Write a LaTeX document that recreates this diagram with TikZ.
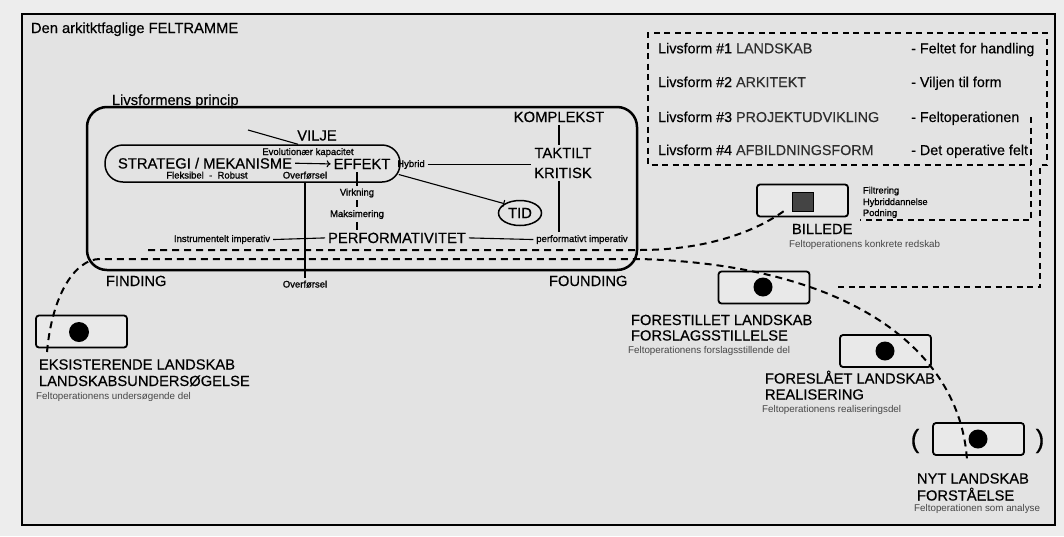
\documentclass[tikz,border=0pt]{standalone}
\usepackage{fontspec}
\setmainfont{Liberation Sans}
\newfontfamily\smf[FakeBold=1]{Liberation Sans}
\newfontfamily\bgf[FakeBold=0.4]{Liberation Sans}
\usetikzlibrary{arrows.meta,shapes.geometric}
\definecolor{bgout}{HTML}{EDEDED}
\definecolor{bgin}{HTML}{E3E3E3}
\definecolor{boxfill}{HTML}{E9E9E9}
\definecolor{txtgray}{HTML}{464646}
\definecolor{capgray}{HTML}{2E2E2E}
\definecolor{sqfill}{HTML}{444444}
\tikzset{
  T/.style={inner sep=0pt, outer sep=3pt, text=black},
  big/.style={T, font=\bgf\fontsize{14.8}{20}\selectfont},
  lab/.style={T, font=\bgf\fontsize{14.7}{17}\selectfont},
  sm/.style={T, font=\smf\fontsize{9.5}{11}\selectfont},
  gr/.style={inner sep=0pt, font=\fontsize{9.8}{11}\selectfont, text=txtgray},
  lg/.style={inner sep=0pt, font=\bgf\fontsize{14.3}{16}\selectfont},
  conn/.style={line width=1.1pt},
  fbox/.style={draw, line width=1.8pt, rounded corners=3pt, fill=boxfill, minimum width=91pt, minimum height=32pt, inner sep=0pt},
  blackdot/.style={circle, fill=black, minimum size=19pt, inner sep=0pt},
  dsh/.style={line width=2pt, dash pattern=on 7pt off 5pt},
  ldsh/.style={line width=1.4pt, dash pattern=on 6pt off 4.5pt},
}
\begin{document}
\begin{tikzpicture}[x=1pt,y=-1pt]
\useasboundingbox (0,0) rectangle (1064,536);
\fill[bgout] (0,0) rectangle (1064,536);
\fill[bgin] (22,14) rectangle (1055,525);
\draw[line width=2pt] (22,14) rectangle (1055,525);

% title
\node[lab, anchor=base west] (title) at (28,33) {Den arkitktfaglige FELTRAMME};

% principle frame
\node[lab, anchor=base west] (lfptitle) at (109,105) {Livsformens princip};
\node[draw, line width=2.5pt, rounded corners=20pt, minimum width=550pt, minimum height=163pt, inner sep=0pt] (lfp) at (362,188.5) {};

% stadium
\node[draw, line width=1.5pt, rounded corners=18pt, minimum width=295pt, minimum height=37pt, inner sep=0pt] (stad) at (252.5,163.5) {};

\node[big, anchor=base] (vilje) at (317,140.5) {VILJE};
\coordinate (vp) at (248,130);
\draw[conn] (vp) -- ([xshift=45.5pt]stad.north);

\node[sm, anchor=base] (evo) at (308,155) {Evolutionær kapacitet};
\node[big, anchor=base] (strat) at (205,168.5) {STRATEGI / MEKANISME};
\node[big, anchor=base] (eff) at (362,169) {EFFEKT};
\node[sm, anchor=base] (flex) at (207,178.5) {Fleksibel \ - \ Robust};
\node[sm, anchor=base] (ov1) at (305,178.5) {Overførsel};
\draw[conn, -{To[length=4pt,width=7pt]}] (strat.east) -- (eff.west);

\node[sm, anchor=base] (hyb) at (411,167) {Hybrid};
\node[big, anchor=base] (kom) at (559,122) {KOMPLEKST};
\node[big, align=center, anchor=center] (tk) at (563,163) {TAKTILT\\KRITISK};
\draw[conn] (hyb.east) -- (hyb.east -| tk.west);
\draw[conn] (kom.south) -- (kom.south |- tk.north);

\node[draw, line width=1.5pt, ellipse, minimum width=43pt, minimum height=25pt, inner sep=0pt, font=\bgf\fontsize{14.8}{18}\selectfont] (tid) at (520,213) {TID};
\draw[conn, -{Bar[width=7pt]}] ([shift={(-2pt,-11pt)}]stad.east) -- (tid.north west);

\node[sm, anchor=base] (virk) at (357,195.5) {Virkning};
\node[sm, anchor=base] (maks) at (357,217) {Maksimering};
\node[big, anchor=base] (perf) at (397,243) {PERFORMATIVITET};
\node[sm, anchor=base] (instr) at (222,242) {Instrumentelt imperativ};
\node[sm, anchor=base] (pimp) at (582,242) {performativt imperativ};
\draw[conn] (eff.south -| virk.north) -- (virk.north);
\draw[conn] (virk.south) -- (maks.north);
\draw[conn] (maks.south) -- (maks.south |- perf.north);
\draw[conn] (instr.east) -- (perf.west);
\draw[conn] (perf.east) -- (pimp.west);
\draw[conn] (tk.south -| kom.south) -- (kom.south |- pimp.north);

\node[sm, anchor=base] (ov2) at (305,287.5) {Overførsel};
\draw[conn] (ov1.south) -- (ov2.north);

\node[lab, anchor=base west] (finding) at (103,286) {FINDING};
\node[lab, anchor=base west] (founding) at (546,286) {FOUNDING};

% legend
\node[lg, anchor=base west] (l1) at (658,53.3) {Livsform \#1 {\color{capgray}LANDSKAB}};
\node[lg, anchor=base west] (l2) at (658,87) {Livsform \#2 {\color{capgray}ARKITEKT}};
\node[lg, anchor=base west] (l3) at (658,122) {Livsform \#3 {\color{capgray}PROJEKTUDVIKLING}};
\node[lg, anchor=base west] (l4) at (658,155) {Livsform \#4 {\color{capgray}AFBILDNINGSFORM}};
\node[lg, anchor=base west] (r1) at (911,53.3) {- Feltet for handling};
\node[lg, anchor=base west] (r2) at (911,87) {- Viljen til form};
\node[lg, anchor=base west] (r3) at (911,122) {- Feltoperationen};
\node[lg, anchor=base west] (r4) at (911,155) {- Det operative felt};
\draw[ldsh] (838,287) -- (1040,287) -- (1040,165) -- (1047,165) -- (1047,33) -- (648,33) -- (648,165) -- (1031,165);
\draw[ldsh] (1031,117) -- (1031,220) -- (860,220);

% BILLEDE
\node[fbox] (bil) at (802.5,200.5) {};
\node[draw, line width=1pt, fill=sqfill, minimum width=21pt, minimum height=19pt, inner sep=0pt] (sq) at (803,201.5) {};
\node[sm, anchor=base west, font=\smf\fontsize{9.3}{11}\selectfont] (filt) at (860,193.5) {Filtrering};
\node[sm, anchor=base west, font=\smf\fontsize{9.3}{11}\selectfont] (hybd) at (860,205) {Hybriddannelse};
\node[sm, anchor=base west, font=\smf\fontsize{9.3}{11}\selectfont] (podn) at (860,216) {Podning};
\node[lab, anchor=base west] (billede) at (789,234) {BILLEDE};
\node[gr, anchor=base west] (bilsub) at (789,247) {Feltoperationens konkrete redskab};

% EKSISTERENDE
\node[fbox] (eks) at (81.5,331.5) {};
\node[blackdot, minimum size=20pt] (eksdot) at (79,332) {};
\node[lab, anchor=base west] (eks1) at (36,369.5) {EKSISTERENDE LANDSKAB};
\node[lab, anchor=base west] (eks2) at (36,386) {LANDSKABSUNDERSØGELSE};
\node[gr, anchor=base west] (eks3) at (36,399.5) {Feltoperationens undersøgende del};

% FORESTILLET
\node[fbox] (fore) at (764,287.5) {};
\node[blackdot] (foredot) at (763,287) {};
\node[lab, anchor=base west] (fore1) at (628,325) {FORESTILLET LANDSKAB};
\node[lab, anchor=base west] (fore2) at (628,340.5) {FORSLAGSSTILLELSE};
\node[gr, anchor=base west] (fore3) at (628,353.5) {Feltoperationens forslagsstillende del};

% FORESLAAET
\node[fbox] (fosl) at (885.5,351) {};
\node[blackdot] (fosldot) at (885,351) {};
\node[lab, anchor=base west] (fosl1) at (762,383.5) {FORESLÅET LANDSKAB};
\node[lab, anchor=base west] (fosl2) at (762,399.5) {REALISERING};
\node[gr, anchor=base west] (fosl3) at (762,412.5) {Feltoperationens realiseringsdel};

% NYT
\node[fbox] (nyt) at (978.5,439) {};
\node[blackdot] (nytdot) at (978,439) {};
\node[inner sep=0pt, font=\bgf\fontsize{26}{28}\selectfont] (pl) at (915,441) {(};
\node[inner sep=0pt, font=\bgf\fontsize{26}{28}\selectfont] (pr) at (1040,441) {)};
\node[lab, anchor=base west] (nyt1) at (914,483.5) {NYT LANDSKAB};
\node[lab, anchor=base west] (nyt2) at (914,500.5) {FORSTÅELSE};
\node[gr, anchor=base west] (nyt3) at (914,511.5) {Feltoperationen som analyse};

% dashed paths
\coordinate (d1s) at (148,250);
\coordinate (d1m) at (640,250);
\coordinate (d1e) at (784,211);
\draw[dsh] (d1s) -- (d1m) .. controls (700,250) and (750,235) .. (d1e);
\coordinate (d2s) at (47,352);
\coordinate (d2a) at (100,259);
\coordinate (d2b) at (640,259);
\coordinate (d2e) at (967,460);
\draw[dsh] (d2s) .. controls (52,295) and (75,259) .. (d2a) -- (d2b) .. controls (850,265) and (960,350) .. (d2e);
\end{tikzpicture}
\end{document}
